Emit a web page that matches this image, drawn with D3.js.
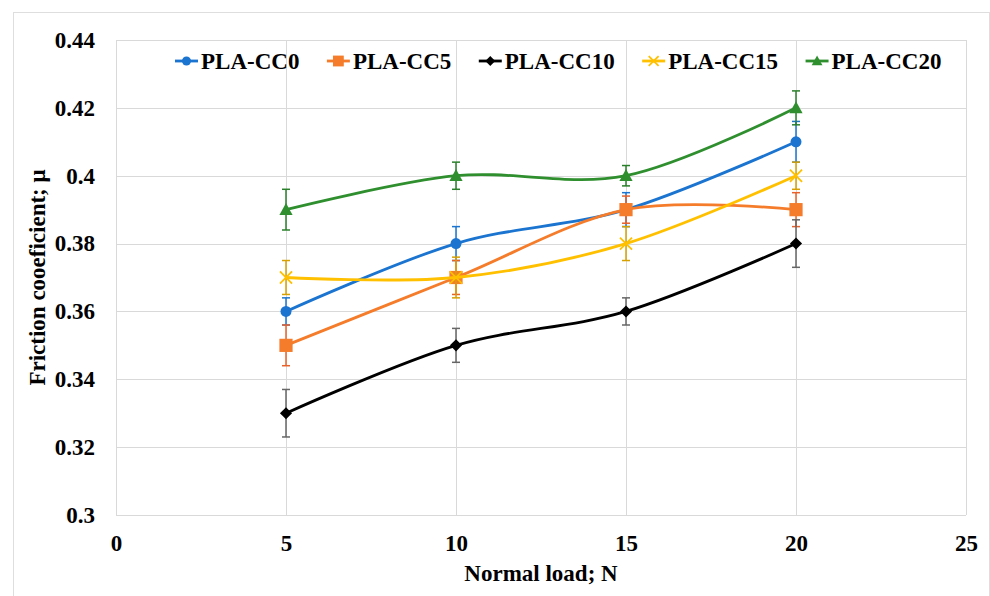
<!DOCTYPE html>
<html>
<head>
<meta charset="utf-8">
<script src="https://cdn.jsdelivr.net/npm/d3@7"></script>
<style>
  html, body { margin: 0; padding: 0; background: #fff; }
  svg { display: block; }
  text { font-family: "Liberation Serif", "Times New Roman", serif; font-weight: bold; fill: #000; }
</style>
</head>
<body>
<svg id="chart" width="990" height="596"></svg>
<script>
// Normal load (N) at which each friction test was run
const loads = [5, 10, 15, 20];

// Mean friction coefficient per formulation
const seriesNames = ["PLA-CC0", "PLA-CC5", "PLA-CC10", "PLA-CC15", "PLA-CC20"];
const cc0  = [0.36, 0.38, 0.39, 0.41];
const cc5  = [0.35, 0.37, 0.39, 0.39];
const cc10 = [0.33, 0.35, 0.36, 0.38];
const cc15 = [0.37, 0.37, 0.38, 0.40];
const cc20 = [0.39, 0.40, 0.40, 0.42];

// Standard deviations (error bars)
const cc0Err  = [0.004, 0.005, 0.005, 0.006];
const cc5Err  = [0.006, 0.005, 0.004, 0.005];
const cc10Err = [0.007, 0.005, 0.004, 0.007];
const cc15Err = [0.005, 0.006, 0.005, 0.004];
const cc20Err = [0.006, 0.004, 0.003, 0.005];

// Axis ticks
const xTicks = [0, 5, 10, 15, 20, 25];
const yTicks = [0.30, 0.32, 0.34, 0.36, 0.38, 0.40, 0.42, 0.44];

const lineColors  = ["#1a74d0", "#f57c2a", "#000000", "#ffc000", "#2f8f2f"];
const errColors   = ["#1a74d0", "#e8602a", "#666666", "#d6a000", "#2a7f2a"];
const markerTypes = ["circle", "square", "diamond", "x", "triangle"];

const means = [cc0, cc5, cc10, cc15, cc20];
const errs  = [cc0Err, cc5Err, cc10Err, cc15Err, cc20Err];
const series = seriesNames.map((name, i) => ({
  name,
  color: lineColors[i],
  errColor: errColors[i],
  marker: markerTypes[i],
  points: loads.map((x, j) => ({ x, y: means[i][j], e: errs[i][j] }))
}));

const svg = d3.select("#chart");

// Outer chart frame
svg.append("rect")
  .attr("x", 13.5).attr("y", 12.5)
  .attr("width", 976).attr("height", 600)
  .attr("fill", "none").attr("stroke", "#dedede").attr("stroke-width", 1);

const plot = { left: 116, right: 966, top: 40, bottom: 515 };

const x = d3.scaleLinear().domain([0, 25]).range([plot.left, plot.right]);
const y = d3.scaleLinear().domain([0.30, 0.44]).range([plot.bottom, plot.top]);

// Gridlines
const grid = svg.append("g");
grid.selectAll("line.h").data(yTicks).join("line")
  .attr("x1", plot.left).attr("x2", plot.right)
  .attr("y1", d => Math.round(y(d)) + 0.5).attr("y2", d => Math.round(y(d)) + 0.5)
  .attr("stroke", "#d9d9d9").attr("stroke-width", 1);
grid.selectAll("line.v").data(xTicks).join("line")
  .attr("y1", plot.top).attr("y2", plot.bottom)
  .attr("x1", d => Math.round(x(d)) + 0.5).attr("x2", d => Math.round(x(d)) + 0.5)
  .attr("stroke", "#d9d9d9").attr("stroke-width", 1);

// Axes (labels only, lines come from the grid)
const yAxis = d3.axisLeft(y).tickValues(yTicks).tickSize(0).tickPadding(21)
  .tickFormat(d => d3.format("")(+d.toFixed(2)));
svg.append("g").attr("transform", `translate(${plot.left},0)`).call(yAxis)
  .call(g => g.select(".domain").remove())
  .call(g => g.selectAll("text").attr("font-size", 23)
    .attr("font-family", "Liberation Serif").attr("font-weight", "bold").attr("fill", "#000"));

const xAxis = d3.axisBottom(x).tickValues(xTicks).tickSize(0).tickPadding(20);
svg.append("g").attr("transform", `translate(0,${plot.bottom})`).call(xAxis)
  .call(g => g.select(".domain").remove())
  .call(g => g.selectAll("text").attr("font-size", 23)
    .attr("font-family", "Liberation Serif").attr("font-weight", "bold").attr("fill", "#000"));

// Axis titles
svg.append("text")
  .attr("x", (plot.left + plot.right) / 2).attr("y", 581)
  .attr("text-anchor", "middle").attr("font-size", 23)
  .text("Normal load; N");

svg.append("text")
  .attr("transform", `translate(45,${(plot.top + plot.bottom) / 2}) rotate(-90)`)
  .attr("text-anchor", "middle").attr("font-size", 23)
  .text("Friction cooeficient; μ");

// Marker drawing
function drawMarker(g, type, color, size) {
  if (type === "circle") {
    g.append("circle").attr("r", size * 0.5).attr("fill", color);
  } else if (type === "square") {
    g.append("rect").attr("x", -size * 0.6).attr("y", -size * 0.6)
      .attr("width", size * 1.2).attr("height", size * 1.2).attr("fill", color);
  } else if (type === "diamond") {
    const s = size * 0.55;
    g.append("path").attr("d", `M0,${-s}L${s},0L0,${s}L${-s},0Z`).attr("fill", color);
  } else if (type === "triangle") {
    const s = size * 0.6;
    g.append("path").attr("d", `M0,${-s}L${s},${s * 0.8}L${-s},${s * 0.8}Z`).attr("fill", color);
  } else if (type === "x") {
    const s = size * 0.55;
    g.append("path").attr("d", `M${-s},${-s}L${s},${s}M${-s},${s}L${s},${-s}`)
      .attr("stroke", color).attr("stroke-width", 1.8).attr("fill", "none");
  }
}

const line = d3.line()
  .x(d => x(d.x)).y(d => y(d.y))
  .curve(d3.curveCardinal.tension(0));

const capHalf = 4;
series.forEach(s => {
  const g = svg.append("g");
  // error bars
  const eb = g.append("g").attr("stroke", s.errColor).attr("stroke-width", 1.5);
  s.points.forEach(p => {
    const cx = x(p.x);
    eb.append("line").attr("x1", cx).attr("x2", cx).attr("y1", y(p.y - p.e)).attr("y2", y(p.y + p.e));
    eb.append("line").attr("x1", cx - capHalf).attr("x2", cx + capHalf).attr("y1", y(p.y + p.e)).attr("y2", y(p.y + p.e));
    eb.append("line").attr("x1", cx - capHalf).attr("x2", cx + capHalf).attr("y1", y(p.y - p.e)).attr("y2", y(p.y - p.e));
  });
  // smoothed line
  g.append("path").datum(s.points)
    .attr("d", line).attr("fill", "none")
    .attr("stroke", s.color).attr("stroke-width", 2.8);
  // markers
  s.points.forEach(p => {
    const m = g.append("g").attr("transform", `translate(${x(p.x)},${y(p.y)})`);
    drawMarker(m, s.marker, s.color, 11);
  });
});

// Legend
const legend = svg.append("g").attr("transform", "translate(175,61)");
let lx = 0;
series.forEach(s => {
  const item = legend.append("g").attr("transform", `translate(${lx},0)`);
  item.append("line").attr("x1", 0).attr("x2", 23).attr("y1", 0).attr("y2", 0)
    .attr("stroke", s.color).attr("stroke-width", 2.8);
  const m = item.append("g").attr("transform", "translate(11.5,0)");
  drawMarker(m, s.marker, s.color, 9);
  const t = item.append("text").attr("x", 26).attr("y", 8)
    .attr("font-size", 23).text(s.name);
  lx += 26 + t.node().getComputedTextLength() + 27.5;
});
</script>
</body>
</html>
